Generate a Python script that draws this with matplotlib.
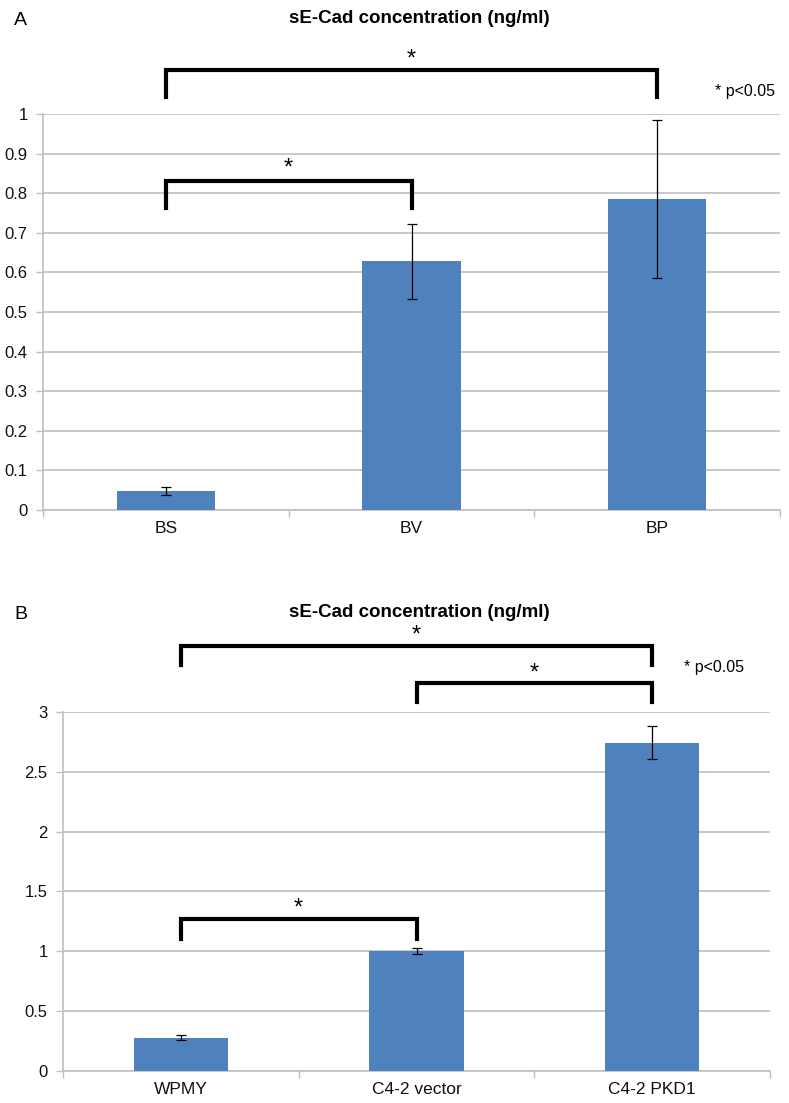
import matplotlib
matplotlib.use("Agg")
import matplotlib.pyplot as plt

plt.rcParams['font.family'] = ['Liberation Sans', 'DejaVu Sans']

# ---- data ----
cats_a = ["BS", "BV", "BP"]
vals_a = [0.047, 0.628, 0.785]
errs_a = [0.010, 0.094, 0.200]

cats_b = ["WPMY", "C4-2 vector", "C4-2 PKD1"]
vals_b = [0.28, 1.005, 2.745]
errs_b = [0.025, 0.025, 0.140]

title = "sE-Cad concentration (ng/ml)"
yticks_a = [0, 0.1, 0.2, 0.3, 0.4, 0.5, 0.6, 0.7, 0.8, 0.9, 1]
yticks_b = [0, 0.5, 1, 1.5, 2, 2.5, 3]

# brackets: (left idx, right idx, horizontal y, leg bottom y, star y)
brackets_a = [(0, 2, 1.112, 1.042, 1.138), (0, 1, 0.832, 0.762, 0.862)]
brackets_b = [(0, 2, 3.55, 3.39, 3.64), (1, 2, 3.24, 3.08, 3.32), (0, 1, 1.267, 1.105, 1.355)]

BAR = "#4F81BD"
GRID = "#BFBFBF"

fig = plt.figure(figsize=(7.89, 11.03), dpi=100)


def panel(rect, cats, vals, errs, yticks, ymax, brackets, pnote_y, pnote_x):
    ax = fig.add_axes(rect)
    x = list(range(len(cats)))
    ax.bar(x, vals, width=0.4, color=BAR, zorder=3)
    ax.errorbar(x, vals, yerr=errs, fmt='none', ecolor='black', elinewidth=0.9,
                capsize=3.5, capthick=0.9, zorder=4)
    ax.set_xlim(-0.5, len(cats) - 0.5)
    ax.set_ylim(0, ymax)
    ax.set_yticks(yticks)
    ax.set_yticklabels([("%g" % t) for t in yticks], fontsize=12, color='#111111')
    ax.set_xticks(x)
    ax.set_xticklabels(cats, fontsize=12.5, color='#111111')
    ax.set_xticks([i - 0.5 for i in range(len(cats) + 1)], minor=True)
    ax.tick_params(axis='x', which='major', length=0, pad=8)
    ax.tick_params(axis='x', which='minor', length=5, color=GRID, width=1)
    ax.tick_params(axis='y', which='major', length=5, color=GRID, width=1, pad=6)
    ax.yaxis.grid(True, color=GRID, lw=1.2, zorder=0)
    ax.set_axisbelow(True)
    for s in ['top', 'right']:
        ax.spines[s].set_visible(False)
    for s in ['left', 'bottom']:
        ax.spines[s].set_color(GRID)
        ax.spines[s].set_linewidth(1.2)
    for (i, j, yh, yb, ys) in brackets:
        ax.plot([i, i, j, j], [yb, yh, yh, yb], color='black', lw=3,
                solid_joinstyle='miter', clip_on=False, zorder=5)
        ax.text((i + j) / 2, ys, "*", ha='center', va='center', fontsize=17,
                clip_on=False)
    ax.text(pnote_x, pnote_y, "* p<0.05", ha='right', va='center', fontsize=11.5)
    return ax


axA = panel([0.0545, 0.5376, 0.9341, 0.3590], cats_a, vals_a, errs_a, yticks_a, 1.0,
            brackets_a, 1.057, 2.48)
axB = panel([0.0798, 0.0290, 0.8962, 0.3255], cats_b, vals_b, errs_b, yticks_b, 3.0,
            brackets_b, 3.37, 2.39)

fig.text(0.532, 0.983, title, ha='center', va='center', fontsize=13.5, fontweight='bold')
fig.text(0.026, 0.981, "A", ha='center', va='center', fontsize=14)
fig.text(0.532, 0.445, title, ha='center', va='center', fontsize=13.5, fontweight='bold')
fig.text(0.026, 0.443, "B", ha='center', va='center', fontsize=14)

fig.savefig("out.png", dpi=100)
